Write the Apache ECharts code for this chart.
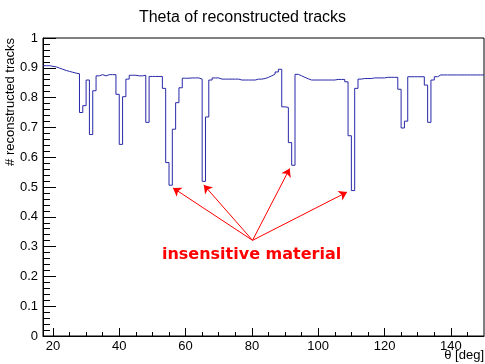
<!DOCTYPE html>
<html>
<head>
<meta charset="utf-8">
<script src="https://cdn.jsdelivr.net/npm/echarts@6/dist/echarts.min.js"></script>
<style>html,body{margin:0;padding:0;background:#fff}#c{width:485px;height:364px}</style>
</head>
<body>
<div id="c"></div>
<script>
const chartTitle = 'Theta of reconstructed tracks';
const xTitle = 'θ [deg]';
const yTitle = '# reconstructed tracks';
const firstBinLow = 17;
const binWidth = 1;
// fraction of reconstructed tracks per 1-degree bin, starting at 17 deg
const binValues = [
  0.907, 0.907, 0.905, 0.903, 0.899, 0.895, 0.891, 0.888, 0.885, 0.882, // 17-26
  0.880, 0.750, 0.773, 0.859, 0.676, 0.823, 0.873, 0.877, 0.873, 0.877, // 27-36
  0.877, 0.877, 0.811, 0.643, 0.803, 0.862, 0.875, 0.875, 0.873, 0.873, // 37-46
  0.875, 0.717, 0.871, 0.871, 0.871, 0.871, 0.831, 0.582, 0.506, 0.694, // 47-56
  0.783, 0.833, 0.865, 0.865, 0.866, 0.866, 0.866, 0.862, 0.519, 0.735, // 57-66
  0.859, 0.866, 0.866, 0.862, 0.862, 0.862, 0.862, 0.862, 0.862, 0.859, // 67-76
  0.859, 0.859, 0.859, 0.859, 0.862, 0.862, 0.864, 0.868, 0.873, 0.879, // 77-86
  0.886, 0.895, 0.769, 0.767, 0.649, 0.573, 0.878, 0.873, 0.868, 0.863, // 87-96
  0.859, 0.859, 0.859, 0.859, 0.859, 0.859, 0.859, 0.859, 0.861, 0.861, // 97-106
  0.861, 0.853, 0.672, 0.488, 0.831, 0.862, 0.864, 0.864, 0.864, 0.866, // 107-116
  0.866, 0.866, 0.866, 0.868, 0.868, 0.868, 0.868, 0.828, 0.698, 0.721, // 117-126
  0.870, 0.870, 0.870, 0.870, 0.870, 0.842, 0.717, 0.859, 0.870, 0.876, // 127-136
  0.876, 0.876, 0.876, 0.876, 0.876, 0.876, 0.876, 0.876, 0.876, 0.876, // 137-146
  0.876, 0.876, 0.876                                                   // 147-149
];
const xMajorTicks = [20, 40, 60, 80, 100, 120, 140];
const xMinorTicks = [20, 25, 30, 35, 40, 45, 50, 55, 60, 65, 70, 75, 80, 85, 90, 95, 100, 105, 110, 115, 120, 125, 130, 135, 140, 145];
const annotationText = 'insensitive material';
const annotationPos = [79.9, 0.272];
const arrowOrigin = [80.2, 0.321];
const arrowTips = [[56.2, 0.497], [65.5, 0.507], [91.4, 0.562], [108.7, 0.483]];

const histPoints = binValues.map((v, i) => [firstBinLow + i * binWidth, v]);
histPoints.push([firstBinLow + binValues.length * binWidth, binValues[binValues.length - 1]]);

const FONT = 'Liberation Sans';
const chart = echarts.init(document.getElementById('c'), null, {renderer: 'canvas'});
chart.setOption({
  animation: false,
  backgroundColor: '#fff',
  title: {
    text: chartTitle, left: 'center', top: 5,
    textStyle: {fontFamily: FONT, fontSize: 16, fontWeight: 'normal', color: '#000'}
  },
  grid: {left: 43, right: 1, top: 38, bottom: 28, show: true, borderColor: '#000', borderWidth: 1, backgroundColor: 'transparent'},
  xAxis: [
    {
      type: 'value', min: 17, max: 150,
      axisLine: {show: true, lineStyle: {color: '#000', width: 1}},
      axisTick: {show: true, inside: true, length: 8, customValues: xMajorTicks, lineStyle: {color: '#000'}},
      axisLabel: {customValues: xMajorTicks, fontFamily: FONT, fontSize: 13, color: '#000', margin: 4},
      splitLine: {show: false}
    },
    {
      type: 'value', min: 17, max: 150, position: 'bottom',
      axisLine: {show: false},
      axisTick: {show: true, inside: true, length: 4, customValues: xMinorTicks, lineStyle: {color: '#000'}},
      axisLabel: {show: false},
      splitLine: {show: false}
    }
  ],
  yAxis: {
    type: 'value', min: 0, max: 1, interval: 0.1,
    axisLine: {show: true, lineStyle: {color: '#000', width: 1}},
    axisTick: {show: true, inside: true, length: 13, lineStyle: {color: '#000'}},
    minorTick: {show: true, splitNumber: 5, length: 7, lineStyle: {color: '#000'}},
    axisLabel: {fontFamily: FONT, fontSize: 13, color: '#000', margin: 5},
    splitLine: {show: false}
  },
  graphic: [
    {
      type: 'text', x: 4, y: 38, rotation: Math.PI / 2,
      style: {text: yTitle, fontFamily: FONT, fontSize: 13, fill: '#000', textAlign: 'right', textVerticalAlign: 'top'}
    },
    {
      type: 'text', right: 1, top: 349,
      style: {text: xTitle, fontFamily: FONT, fontSize: 13, fill: '#000'}
    }
  ],
  series: [{
    type: 'line', xAxisIndex: 0, step: 'end', data: histPoints, symbol: 'none',
    lineStyle: {color: '#2828a8', width: 1},
    markLine: {
      silent: true, symbol: ['none', 'arrow'], symbolSize: 8,
      lineStyle: {color: '#ff0000', width: 1, type: 'solid'},
      label: {show: false},
      data: arrowTips.map(t => [{coord: arrowOrigin}, {coord: t}])
    },
    markPoint: {
      silent: true, symbol: 'circle', symbolSize: 0,
      data: [{coord: annotationPos, value: annotationText}],
      label: {show: true, position: 'inside', formatter: annotationText, color: '#ff0000', fontFamily: 'DejaVu Sans', fontWeight: 'bold', fontSize: 16}
    }
  }]
});
</script>
</body>
</html>
